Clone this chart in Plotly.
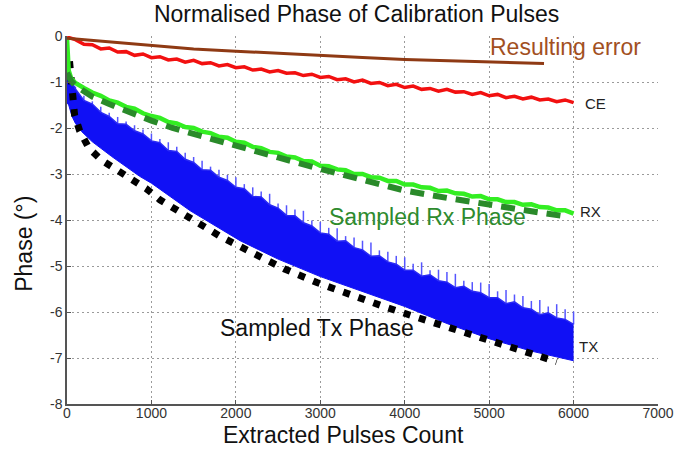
import plotly.graph_objects as go

# ---------------- data ----------------
x_ticks = [0, 1000, 2000, 3000, 4000, 5000, 6000, 7000]
y_ticks = [-8, -7, -6, -5, -4, -3, -2, -1, 0]

# Resulting error (smooth brown)
err_x = [0, 500, 1000, 1500, 2000, 2500, 3000, 3500, 4000, 4500, 5000, 5650]
err_y = [-0.05, -0.13, -0.21, -0.28, -0.33, -0.38, -0.43, -0.47, -0.51, -0.54, -0.57, -0.60]

# CE (noisy red)
ce_x = [0] + list(range(100, 6001, 100))
ce_y = [-0.02,
        -0.08, -0.18, -0.19, -0.28, -0.26, -0.35, -0.34, -0.42, -0.39, -0.47,
        -0.45, -0.52, -0.50, -0.57, -0.53, -0.60, -0.58, -0.65, -0.62, -0.69,
        -0.67, -0.74, -0.72, -0.78, -0.75, -0.81, -0.80, -0.86, -0.83, -0.90,
        -0.88, -0.95, -0.93, -1.00, -0.96, -1.03, -1.01, -1.08, -1.05, -1.12,
        -1.09, -1.16, -1.14, -1.20, -1.16, -1.22, -1.21, -1.27, -1.23, -1.30,
        -1.27, -1.34, -1.31, -1.37, -1.33, -1.39, -1.37, -1.43, -1.39, -1.45]

# RX (noisy bright green)
rx_x = [0, 20, 50] + list(range(100, 6001, 100))
rx_y = [-0.05, -0.75, -0.92,
        -1.02, -1.13, -1.23, -1.30, -1.40, -1.45, -1.54, -1.58, -1.68, -1.74,
        -1.78, -1.87, -1.90, -1.98, -2.00, -2.08, -2.11, -2.19, -2.21, -2.30,
        -2.32, -2.41, -2.44, -2.52, -2.54, -2.62, -2.64, -2.72, -2.73, -2.82,
        -2.83, -2.90, -2.92, -3.00, -3.00, -3.07, -3.08, -3.15, -3.15, -3.23,
        -3.23, -3.29, -3.30, -3.37, -3.36, -3.42, -3.43, -3.49, -3.48, -3.55,
        -3.55, -3.61, -3.61, -3.67, -3.66, -3.72, -3.73, -3.79, -3.79, -3.86]

# Sampled Rx phase (dark green dashed)
srx_x = [0, 50, 100, 200, 300, 500, 750, 1000, 1250, 1500, 2000, 2500, 3000, 3500, 4000, 4500, 5000, 5500, 5900]
srx_y = [-0.80, -0.98, -1.08, -1.22, -1.32, -1.48, -1.67, -1.84, -2.00, -2.13, -2.41, -2.64, -2.89, -3.12, -3.36, -3.52, -3.65, -3.81, -3.92]

# TX (noisy blue band): upper edge, spikes above it, lower edge
tx_top_x = [0, 20, 50] + list(range(100, 6001, 100))
tx_top_y = [-0.70, -0.82, -0.98,
            -1.15, -1.40, -1.48, -1.66, -1.75, -1.91, -1.92, -2.06, -2.13, -2.28,
            -2.32, -2.49, -2.51, -2.68, -2.75, -2.91, -2.92, -3.07, -3.14, -3.29,
            -3.32, -3.49, -3.50, -3.67, -3.74, -3.90, -3.91, -4.06, -4.13, -4.28,
            -4.31, -4.46, -4.45, -4.60, -4.65, -4.79, -4.78, -4.91, -4.96, -5.09,
            -5.09, -5.22, -5.19, -5.32, -5.35, -5.47, -5.44, -5.55, -5.58, -5.69,
            -5.69, -5.82, -5.78, -5.91, -5.94, -6.06, -6.02, -6.13, -6.16, -6.27]
tx_spike = [0, 0.04, 0.05,
            0.05, 0.10, 0.06, 0.12, 0.08, 0.15, 0.06, 0.12, 0.10, 0.16,
            0.08, 0.18, 0.10, 0.14, 0.12, 0.20, 0.08, 0.16, 0.12, 0.22,
            0.10, 0.20, 0.12, 0.24, 0.10, 0.22, 0.14, 0.26, 0.12, 0.24,
            0.14, 0.28, 0.10, 0.22, 0.20, 0.30, 0.12, 0.22, 0.18, 0.28,
            0.14, 0.30, 0.10, 0.24, 0.22, 0.30, 0.12, 0.20, 0.22, 0.30,
            0.14, 0.30, 0.16, 0.26, 0.18, 0.32, 0.14, 0.30, 0.22, 0.28]
tx_bot_x = [0, 20, 60, 100, 175, 300, 530, 860, 1000, 1460, 2050, 2500, 3000, 3500, 4000, 4500, 5000, 5500, 6000]
tx_bot_y = [-1.45, -1.50, -1.75, -1.90, -2.08, -2.30, -2.62, -3.05, -3.20, -3.80, -4.45, -4.85, -5.23, -5.56, -5.88, -6.25, -6.58, -6.85, -7.06]

# Sampled Tx phase (black dotted)
stx_x = [30, 60, 90, 150, 260, 410, 590, 760, 940, 1100, 1280, 1460, 1640, 1810, 2010, 2210, 2570, 2960, 3350, 3750, 4150, 4540, 4940, 5330, 5750, 5800]
stx_y = [-0.55, -1.20, -1.72, -2.06, -2.44, -2.70, -2.91, -3.10, -3.32, -3.56, -3.77, -3.97, -4.16, -4.35, -4.54, -4.74, -5.06, -5.36, -5.63, -5.88, -6.12, -6.35, -6.57, -6.82, -7.04, -7.08]

FONT = "Liberation Sans, Arial, sans-serif"

fig = go.Figure()

# blue TX band
fig.add_trace(go.Scatter(x=tx_bot_x, y=tx_bot_y, mode="lines",
                         line=dict(color="#1010f5", width=1), showlegend=False))
fig.add_trace(go.Scatter(x=tx_top_x, y=tx_top_y, mode="lines", fill="tonexty",
                         fillcolor="#1010f5",
                         line=dict(color="#2a2af5", width=1.5),
                         error_y=dict(type="data", symmetric=False, array=tx_spike,
                                      arrayminus=[0] * len(tx_spike),
                                      color="#5555ff", thickness=1.5, width=0),
                         showlegend=False))
# black dotted
fig.add_trace(go.Scatter(x=stx_x, y=stx_y, mode="lines",
                         line=dict(color="#000000", width=7, dash="7px,9px"),
                         showlegend=False))
# bright green RX
fig.add_trace(go.Scatter(x=rx_x, y=rx_y, mode="lines",
                         line=dict(color="#33ee22", width=4.5), showlegend=False))
# dark green dashed
fig.add_trace(go.Scatter(x=srx_x, y=srx_y, mode="lines",
                         line=dict(color="#2a8a2a", width=6, dash="14px,9px"),
                         showlegend=False))
# red CE
fig.add_trace(go.Scatter(x=ce_x, y=ce_y, mode="lines",
                         line=dict(color="#f21010", width=3.5), showlegend=False))
# brown resulting error
fig.add_trace(go.Scatter(x=err_x, y=err_y, mode="lines",
                         line=dict(color="#8f3a14", width=3), showlegend=False))

annotations = [
    dict(x=4990, y=-0.24, xref="x", yref="y", text="Resulting error", showarrow=False,
         xanchor="left", yanchor="middle", font=dict(family=FONT, size=23, color="#a2501f")),
    dict(x=3077, y=-3.93, xref="x", yref="y", text="Sampled Rx Phase", showarrow=False,
         xanchor="left", yanchor="middle", font=dict(family=FONT, size=23, color="#2e8b2e")),
    dict(x=1788, y=-6.35, xref="x", yref="y", text="Sampled Tx Phase", showarrow=False,
         xanchor="left", yanchor="middle", font=dict(family=FONT, size=23, color="#111111")),
    dict(x=6110, y=-1.46, xref="x", yref="y", text="CE", showarrow=False,
         xanchor="left", yanchor="middle", font=dict(family=FONT, size=15, color="#222222")),
    dict(x=6055, y=-3.82, xref="x", yref="y", text="RX", showarrow=False,
         xanchor="left", yanchor="middle", font=dict(family=FONT, size=15, color="#222222")),
    dict(x=6045, y=-6.75, xref="x", yref="y", text="TX", showarrow=False,
         xanchor="left", yanchor="middle", font=dict(family=FONT, size=15, color="#222222")),
    # axis titles
    dict(x=0.468, y=-0.085, xref="paper", yref="paper", text="Extracted Pulses Count",
         showarrow=False, xanchor="center", yanchor="middle",
         font=dict(family=FONT, size=23, color="#111111")),
    dict(x=-0.073, y=0.435, xref="paper", yref="paper", text="Phase (°)", textangle=-90,
         showarrow=False, xanchor="center", yanchor="middle",
         font=dict(family=FONT, size=23, color="#111111")),
]

axis_common = dict(
    showgrid=True, gridcolor="#9a9a9a", gridwidth=1, griddash="2px,3px",
    zeroline=False, showline=True, linecolor="#555555", linewidth=1.5,
    ticks="inside", ticklen=4, tickcolor="#555555",
    tickfont=dict(family=FONT, size=14, color="#333333"),
)

fig.update_layout(
    width=689, height=450,
    margin=dict(l=67, r=31, t=36, b=46),
    paper_bgcolor="white", plot_bgcolor="white",
    title=dict(text="Normalised Phase of Calibration Pulses",
               x=0.49, xref="paper", xanchor="center",
               y=1 - 14 / 450, yref="container", yanchor="middle",
               font=dict(family=FONT, size=23, color="#111111")),
    xaxis=dict(range=[0, 7000], tickvals=x_ticks, ticktext=[str(v) for v in x_ticks],
               ticklabelstandoff=-5, **axis_common),
    yaxis=dict(range=[-8, 0], tickvals=y_ticks, ticktext=[str(v) for v in y_ticks],
               **axis_common),
    annotations=annotations,
    showlegend=False,
)

fig.write_html("out.html")
